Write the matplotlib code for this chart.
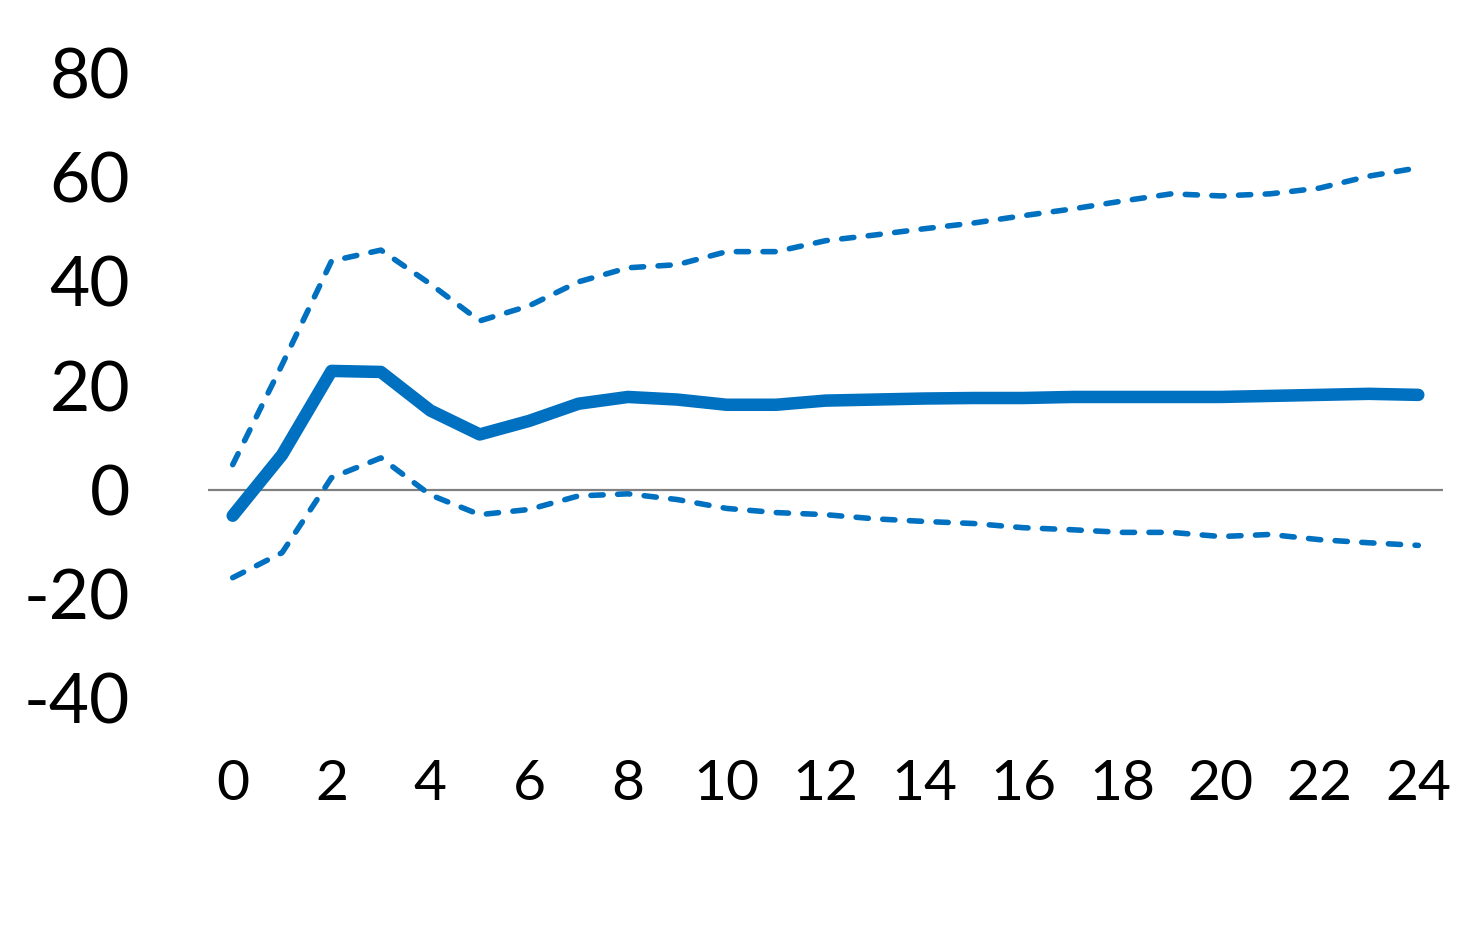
import numpy as np
import matplotlib.pyplot as plt

horizon = list(range(25))
irf = [-5.0, 6.7, 22.8, 22.6, 15.2, 10.6, 13.2, 16.5, 17.8, 17.3, 16.3, 16.3, 17.1,
       17.3, 17.5, 17.6, 17.6, 17.8, 17.8, 17.8, 17.8, 18.0, 18.2, 18.4, 18.2]
upper = [4.8, 24.0, 43.9, 46.0, 39.5, 32.4, 35.3, 39.9, 42.6, 43.2, 45.7, 45.7, 47.8,
         48.9, 50.1, 51.2, 52.6, 53.9, 55.4, 56.8, 56.4, 56.8, 57.9, 60.2, 61.8]
lower = [-16.9, -12.1, 2.3, 6.1, -1.0, -4.8, -3.8, -1.2, -0.8, -1.9, -3.6, -4.4, -4.8,
         -5.6, -6.1, -6.5, -7.3, -7.7, -8.2, -8.2, -9.0, -8.6, -9.6, -10.2, -10.7]

blue = "#0070C0"
plt.rcParams['font.family'] = ['Lato', 'DejaVu Sans']
plt.rcParams['axes.unicode_minus'] = False

fig = plt.figure(figsize=(14.82, 9.47), dpi=100)
ax = fig.add_axes([208/1482, 1-698/947, (1443-208)/1482, (698-73)/947])

ax.axhline(0, color="#808080", lw=1.6, zorder=1)
ax.plot(horizon, upper, color=blue, lw=4, dashes=(2.2, 2.6), dash_capstyle="round", zorder=2)
ax.plot(horizon, lower, color=blue, lw=4, dashes=(2.2, 2.6), dash_capstyle="round", zorder=2)
ax.plot(horizon, irf, color=blue, lw=9, solid_capstyle="round", solid_joinstyle="round", zorder=3)

ax.set_xlim(-0.5, 24.5)
ax.set_ylim(-40, 80)
ax.set_xticks(range(0, 25, 2))
ax.set_yticks(range(-40, 81, 20))
for s in ax.spines.values():
    s.set_visible(False)
ax.tick_params(axis="both", length=0)
ax.tick_params(axis="y", labelsize=50, pad=56)
ax.tick_params(axis="x", labelsize=41, pad=44)

fig.savefig("out.png", dpi=100)
